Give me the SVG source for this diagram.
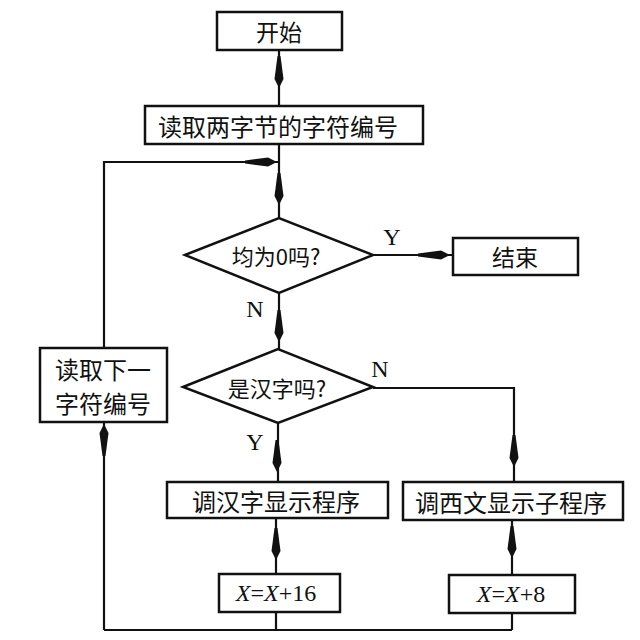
<svg xmlns="http://www.w3.org/2000/svg" xmlns:xlink="http://www.w3.org/1999/xlink" width="640" height="640" viewBox="0 0 640 640">
<style>
.box{fill:#fff;stroke:#111;stroke-width:2.5}
.ln{fill:none;stroke:#111;stroke-width:2.2}
.cj{font-family:"Noto Sans CJK SC","Noto Sans",sans-serif;font-size:24px;fill:#111;text-anchor:middle;dominant-baseline:central}
.lt{font-family:"Liberation Serif",serif;font-size:24px;fill:#111;text-anchor:middle}
.eq{font-family:"Liberation Serif",serif;font-size:24px;fill:#111;text-anchor:middle;dominant-baseline:central}
</style>
<defs>
<path id="ah" d="M0,0 L-4.5,-9 L-1.5,-32 L1.5,-32 L4.5,-9 Z" fill="#111"/>
</defs>
<rect width="640" height="640" fill="#fff"/>
<g id="connectors">
<path class="ln" d="M279,50 V106"/>
<path class="ln" d="M279,144 V218"/>
<path class="ln" d="M104,348 V162 H279"/>
<path class="ln" d="M373,255 H453"/>
<path class="ln" d="M279,293 V349"/>
<path class="ln" d="M278,423 V482"/>
<path class="ln" d="M373,388 H514 V482"/>
<path class="ln" d="M276,518 V574"/>
<path class="ln" d="M512,520 V575"/>
<path class="ln" d="M276,612 V630 M512,613 V630 M104,630 H512 M104,630 V422"/>
<use xlink:href="#ah" transform="translate(279,88)"/>
<use xlink:href="#ah" transform="translate(279,205)"/>
<use xlink:href="#ah" transform="translate(277,162) rotate(-90)"/>
<use xlink:href="#ah" transform="translate(450,255) rotate(-90)"/>
<use xlink:href="#ah" transform="translate(279,342)"/>
<use xlink:href="#ah" transform="translate(277,472)"/>
<use xlink:href="#ah" transform="translate(514,467)"/>
<use xlink:href="#ah" transform="translate(276,560)"/>
<use xlink:href="#ah" transform="translate(512,558)"/>
<use xlink:href="#ah" transform="translate(104,424) rotate(180)"/>
<text class="lt" x="392" y="245">Y</text>
<text class="lt" x="255" y="317">N</text>
<text class="lt" x="380" y="377">N</text>
<text class="lt" x="255" y="450">Y</text>
</g>
<g id="start"><rect class="box" x="217" y="12" width="125" height="38"/><text class="cj" x="279" y="31" style="font-size:23px">开始</text></g>
<g id="read2"><rect class="box" x="145" y="106" width="278" height="38"/><text class="cj" x="278" y="125">读取两字节的字符编号</text></g>
<g id="zero"><polygon class="box" points="185,255 279,218 373,255 279,293"/><text class="cj" x="276" y="255" style="font-size:22px">均为0吗?</text></g>
<g id="end"><rect class="box" x="453" y="238" width="125" height="37"/><text class="cj" x="515" y="256" style="font-size:23px">结束</text></g>
<g id="next"><rect class="box" x="40" y="348" width="127" height="74"/><text class="cj" x="103" y="368">读取下一</text><text class="cj" x="103" y="402">字符编号</text></g>
<g id="hanzi"><polygon class="box" points="183,387 278,349 373,387 278,423"/><text class="cj" x="277" y="387" style="font-size:22px">是汉字吗?</text></g>
<g id="cn"><rect class="box" x="167" y="482" width="221" height="36"/><text class="cj" x="276" y="500">调汉字显示程序</text></g>
<g id="west"><rect class="box" x="403" y="482" width="220" height="38"/><text class="cj" x="511" y="501">调西文显示子程序</text></g>
<g id="x16"><rect class="box" x="219" y="574" width="121" height="38"/><text class="eq" x="276" y="593"><tspan font-style="italic">X</tspan>=<tspan font-style="italic">X</tspan>+16</text></g>
<g id="x8"><rect class="box" x="449" y="575" width="126" height="38"/><text class="eq" x="511" y="594"><tspan font-style="italic">X</tspan>=<tspan font-style="italic">X</tspan>+8</text></g>
</svg>
